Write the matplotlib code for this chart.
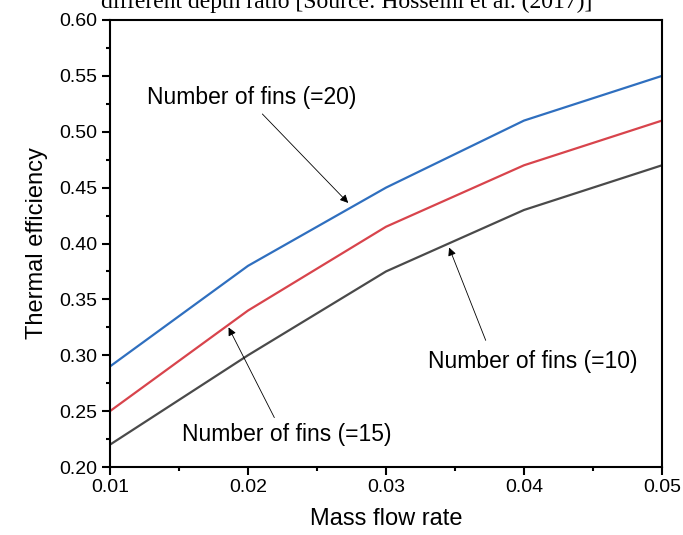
import numpy as np
import matplotlib
matplotlib.use('Agg')
import matplotlib.pyplot as plt
from matplotlib.ticker import MultipleLocator, FormatStrFormatter

# data
mass_flow = [0.01, 0.02, 0.03, 0.04, 0.05]
eff_fins20 = [0.29, 0.38, 0.45, 0.51, 0.55]
eff_fins15 = [0.25, 0.34, 0.415, 0.47, 0.51]
eff_fins10 = [0.22, 0.30, 0.375, 0.43, 0.47]

plt.rcParams['font.family'] = ['Liberation Sans', 'DejaVu Sans']

fig = plt.figure(figsize=(6.83, 5.35), dpi=100)
ax = fig.add_axes([110 / 683, 1 - 467 / 535, 552 / 683, 447 / 535])

ax.plot(mass_flow, eff_fins20, color='#2f6fbf', lw=1.6)
ax.plot(mass_flow, eff_fins15, color='#d8444c', lw=1.6)
ax.plot(mass_flow, eff_fins10, color='#4a4a4a', lw=1.6)

ax.set_xlim(0.01, 0.05)
ax.set_ylim(0.20, 0.60)
ax.xaxis.set_major_locator(MultipleLocator(0.01))
ax.xaxis.set_minor_locator(MultipleLocator(0.005))
ax.yaxis.set_major_locator(MultipleLocator(0.05))
ax.yaxis.set_minor_locator(MultipleLocator(0.025))
ax.xaxis.set_major_formatter(FormatStrFormatter('%.2f'))
ax.yaxis.set_major_formatter(FormatStrFormatter('%.2f'))
ax.tick_params(which='major', direction='out', length=6, width=1.5, labelsize=14, pad=3)
ax.tick_params(which='minor', direction='out', length=3, width=1.5)
for s in ax.spines.values():
    s.set_linewidth(1.5)

ax.set_xlabel('Mass flow rate', fontsize=17, labelpad=8)
ax.set_ylabel('Thermal efficiency', fontsize=17, labelpad=8)

arrow = dict(arrowstyle='-|>', color='black', lw=0.6, mutation_scale=12)
ax.annotate('', xy=(0.0274, 0.4345), xytext=(0.0209, 0.5177), arrowprops=arrow)
ax.annotate('', xy=(0.0345, 0.3987), xytext=(0.0373, 0.3110), arrowprops=arrow)
ax.annotate('', xy=(0.0185, 0.3271), xytext=(0.0220, 0.2420), arrowprops=arrow)

ax.text(0.0203, 0.531, 'Number of fins (=20)', fontsize=16.5, ha='center', va='center')
ax.text(0.04065, 0.294, 'Number of fins (=10)', fontsize=16.5, ha='center', va='center')
ax.text(0.02283, 0.229, 'Number of fins (=15)', fontsize=16.5, ha='center', va='center')

# caption text cut off at the top of the image
fig.text(347 / 683, 1 - 8 / 535, 'different depth ratio [Source: Hosseini et al. (2017)]',
         fontsize=17, family='Liberation Serif', ha='center', va='baseline')

fig.savefig('out.png', dpi=100)
